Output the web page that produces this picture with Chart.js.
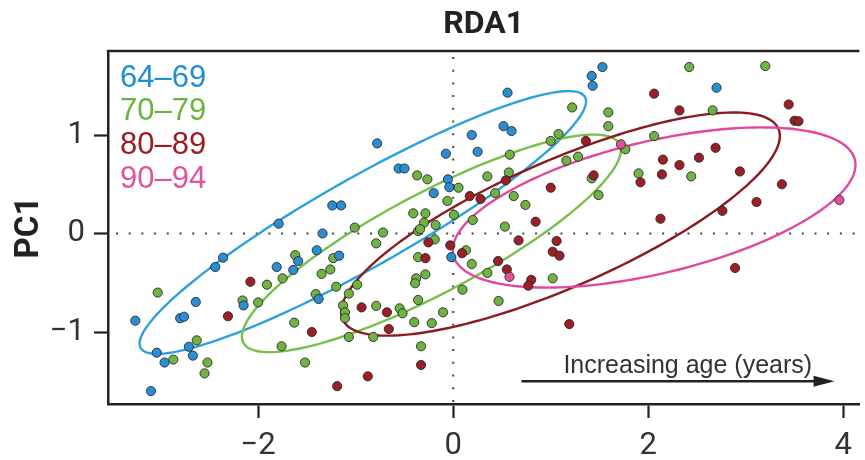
<!DOCTYPE html>
<html>
<head>
<meta charset="utf-8">
<script src="https://cdn.jsdelivr.net/npm/chart.js@4.4.1/dist/chart.umd.min.js"></script>
<style>
  html, body { margin: 0; padding: 0; background: #fff; }
  #c { display: block; }
</style>
</head>
<body>
<canvas id="c" width="865" height="460"></canvas>
<script>
// ---------------- data ----------------
const groupLabels = ['64\u201369', '70\u201379', '80\u201389', '90\u201394'];

const blueX = [-3.26,-3.10,-3.04,-2.96,-2.80,-2.76,-2.64,-2.71,-2.67,-2.44,-2.36,-2.15,-1.81,-1.79,-1.59,-1.64,-1.34,-1.40,-1.17,-1.38,-1.24,-1.15,-0.78,0.557,0.19,0.516,0.598,0.25,-0.075,-0.56,-0.50,1.42,1.43,1.53,-0.054,-0.04,-0.20,-0.02,2.70];
const blueY = [-0.885,-1.60,-1.21,-1.31,-0.86,-0.845,-0.695,-1.15,-1.24,-0.34,-0.245,-0.73,-0.34,0.10,-0.28,-0.37,0.0,-0.17,-0.225,-0.665,0.285,0.285,0.915,1.43,1.0,1.09,1.04,0.83,0.81,0.66,0.66,1.6,1.5,1.69,0.55,0.47,0.41,-0.24,1.48];

const greenX = [-3.03,-2.87,-2.63,-2.52,-2.55,-2.16,-2.0,-1.91,-1.75,-1.62,-1.63,-1.76,-1.52,-1.01,-1.23,-1.35,-1.26,-1.41,-1.20,-1.07,-0.985,-1.13,-1.11,-1.11,-1.07,1.22,1.08,1.0,0.58,1.16,1.28,1.42,1.49,0.74,0.62,0.53,0.43,0.57,0.35,0.054,-0.37,-0.265,-0.06,0.007,0.20,-0.41,-0.285,-0.30,-0.18,-0.36,-0.34,-0.72,-0.79,-0.19,0.13,0.19,-0.36,-0.285,-0.38,-0.39,-0.36,-0.105,-0.22,-0.40,-0.33,-0.55,-0.52,-0.79,-0.82,0.095,0.465,0.35,1.02,2.42,3.20,2.66,1.59,1.59,2.06,1.765,1.90,2.44];
const greenY = [-0.60,-1.28,-1.085,-1.31,-1.42,-0.68,-0.70,-0.52,-0.455,-0.22,-0.905,-1.145,-1.31,0.06,-0.25,-0.41,-0.365,-0.615,-0.54,-0.61,-0.52,-0.73,-0.80,-0.86,-1.05,1.28,1.01,0.94,0.80,0.74,0.78,0.56,0.39,0.29,0.38,0.07,0.41,0.62,0.58,0.465,0.59,0.55,0.33,0.19,0.137,0.205,0.205,0.11,0.086,0.025,0.045,0.01,-0.10,-0.06,-0.17,-0.31,-0.24,-0.415,-0.455,-0.505,-0.675,-0.80,-0.91,-0.90,-1.145,-0.76,-0.81,-0.735,-1.05,-0.57,-0.685,-0.40,-0.455,1.69,1.70,1.25,1.23,1.09,0.99,0.855,0.61,0.58];

const redX = [-2.31,-2.08,-1.45,-1.19,-0.94,1.36,1.44,1.0,0.845,0.54,0.28,0.17,-0.255,-0.03,0.09,-0.285,-0.33,-0.876,-0.66,-0.68,0.46,0.55,0.67,1.06,1.02,1.09,0.80,0.77,1.19,2.06,2.32,3.44,3.50,3.54,2.15,2.32,2.52,2.69,2.14,1.92,2.94,3.37,3.11,2.76,2.125,2.89];
const redY = [-0.84,-0.49,-1.0,-1.55,-0.75,0.94,0.59,0.465,0.12,0.54,0.35,0.38,-0.09,-0.12,-0.20,-0.25,-1.335,-1.45,-0.97,-0.80,-0.28,-0.365,-0.07,-0.076,-0.185,-0.225,-0.47,-0.53,-0.92,1.42,1.25,1.31,1.145,1.14,0.75,0.695,0.77,0.87,0.60,0.52,0.63,0.50,0.32,0.23,0.15,-0.35];

const pinkX = [0.577, 1.72, 3.96];
const pinkY = [-0.44, 0.905, 0.34];

// ellipse parameters per group: centre, semi-axes (data units), tilt (degrees)
const ellCX = [-0.927, -0.224, 1.10, 2.06];
const ellCY = [0.112, -0.10, 0.096, 0.264];
const ellA  = [2.61, 2.176, 2.435, 2.115];
const ellB  = [0.455, 0.509, 0.643, 0.672];
const ellDeg = [29.2, 27.6, 23.4, 13.2];

const xTicks = [-2, 0, 2, 4];
const yTicks = [-1, 0, 1];
const xRange = [-3.54, 4.165];
const yRange = [-1.731, 1.853];

const arrowText = 'Increasing age (years)';
const arrowFromX = 0.70, arrowToX = 3.91, arrowAtY = -1.50;
const arrowTextX = 1.13, arrowTextY = -1.415;

// ---------------- styles ----------------
const pointFill = ['#2a8fd2', '#6fb344', '#9a1f27', '#e0539b'];
const legendColor = ['#1f8fd0', '#6ab43e', '#9a1c24', '#e0549c'];
const ellColor = ['#2ca2dc', '#78c04b', '#8a1b21', '#e2479e'];

const TFONT = 'Roboto, "Liberation Sans", sans-serif';
const REG = '"Liberation Sans", Arial, sans-serif';

function pts(xs, ys) { return xs.map((x, i) => ({ x: x, y: ys[i] })); }
function minusFmt(v) { return v < 0 ? '\u2212' + Math.abs(v) : String(v); }

const decorPlugin = {
  id: 'decor',
  beforeDatasetsDraw(chart) {
    const { ctx, chartArea: ca } = chart;
    const xs = chart.scales.x, ys = chart.scales.y;
    ctx.save();
    ctx.beginPath();
    ctx.rect(ca.left, ca.top, ca.right - ca.left, ca.bottom - ca.top);
    ctx.clip();
    // dotted zero lines
    ctx.strokeStyle = '#444';
    ctx.lineWidth = 2;
    ctx.setLineDash([2, 10.7]);
    const x0 = xs.getPixelForValue(0), y0 = ys.getPixelForValue(0);
    ctx.beginPath(); ctx.moveTo(ca.left + 8, y0); ctx.lineTo(ca.right, y0); ctx.stroke();
    ctx.beginPath(); ctx.moveTo(x0, ca.top + 6); ctx.lineTo(x0, ca.bottom); ctx.stroke();
    ctx.setLineDash([]);
    // ellipses
    for (let g = 0; g < ellCX.length; g++) {
      const th = ellDeg[g] * Math.PI / 180;
      ctx.beginPath();
      for (let k = 0; k <= 180; k++) {
        const t = k / 180 * 2 * Math.PI;
        const dx = ellA[g] * Math.cos(t), dy = ellB[g] * Math.sin(t);
        const vx = ellCX[g] + dx * Math.cos(th) - dy * Math.sin(th);
        const vy = ellCY[g] + dx * Math.sin(th) + dy * Math.cos(th);
        const px = xs.getPixelForValue(vx), py = ys.getPixelForValue(vy);
        if (k === 0) ctx.moveTo(px, py); else ctx.lineTo(px, py);
      }
      ctx.closePath();
      ctx.strokeStyle = ellColor[g];
      ctx.lineWidth = 2.4;
      ctx.stroke();
    }
    ctx.restore();
  },
  afterDatasetsDraw(chart) {
    const { ctx, chartArea: ca } = chart;
    const xs = chart.scales.x, ys = chart.scales.y;
    ctx.save();
    // top frame line
    ctx.strokeStyle = '#222';
    ctx.lineWidth = 2.5;
    ctx.beginPath(); ctx.moveTo(ca.left - 1.25, ca.top); ctx.lineTo(ca.right, ca.top); ctx.stroke();
    // legend texts
    ctx.font = '31px ' + REG;
    ctx.textAlign = 'left';
    ctx.textBaseline = 'middle';
    for (let g = 0; g < groupLabels.length; g++) {
      ctx.fillStyle = legendColor[g];
      ctx.fillText(groupLabels[g], ca.left + 12, ca.top + 27 + g * 33.7);
    }
    // arrow
    const ax1 = xs.getPixelForValue(arrowFromX), ax2 = xs.getPixelForValue(arrowToX);
    const ay = ys.getPixelForValue(arrowAtY);
    ctx.strokeStyle = '#222';
    ctx.fillStyle = '#222';
    ctx.lineWidth = 2.6;
    ctx.beginPath(); ctx.moveTo(ax1, ay); ctx.lineTo(ax2 - 14, ay); ctx.stroke();
    ctx.beginPath();
    ctx.moveTo(ax2, ay); ctx.lineTo(ax2 - 21, ay - 5.5); ctx.lineTo(ax2 - 21, ay + 5.5); ctx.closePath();
    ctx.fill();
    ctx.fillStyle = '#333';
    ctx.font = '25px ' + REG;
    ctx.textBaseline = 'alphabetic';
    ctx.fillText(arrowText, xs.getPixelForValue(arrowTextX), ys.getPixelForValue(arrowTextY));
    ctx.restore();
  }
};

function ds(label, xs, ys, color, order) {
  return {
    label: label,
    data: pts(xs, ys),
    backgroundColor: color,
    borderColor: 'rgba(35,35,35,0.85)',
    borderWidth: 1,
    pointRadius: 4.6,
    pointHoverRadius: 4.6,
    order: order
  };
}

const axisCommon = {
  border: { display: true, color: '#222', width: 2.5 },
  grid: { display: true, drawOnChartArea: false, drawTicks: true, tickLength: 14, tickWidth: 2.2, tickColor: '#222' },
};

new Chart(document.getElementById('c'), {
  type: 'scatter',
  data: {
    datasets: [
      ds(groupLabels[0], blueX, blueY, pointFill[0], 2),
      ds(groupLabels[1], greenX, greenY, pointFill[1], 3),
      ds(groupLabels[2], redX, redY, pointFill[2], 1),
      ds(groupLabels[3], pinkX, pinkY, pointFill[3], 0)
    ]
  },
  options: {
    responsive: false,
    animation: false,
    devicePixelRatio: 1,
    layout: { padding: { left: 0, right: 0, top: 0, bottom: 0 } },
    plugins: {
      legend: { display: false },
      tooltip: { enabled: false },
      title: {
        display: true,
        text: 'RDA1',
        fullSize: false,
        color: '#222',
        font: { family: TFONT, size: 32, weight: 'bold', lineHeight: 1.2 },
        padding: { top: 6, bottom: 6.6 }
      }
    },
    scales: {
      x: Object.assign({}, axisCommon, {
        type: 'linear',
        min: xRange[0], max: xRange[1],
        afterBuildTicks: s => { s.ticks = xTicks.map(v => ({ value: v })); },
        afterFit: s => { s.height = 56; },
        ticks: { color: '#333', padding: 10, font: { family: TFONT, size: 31 }, callback: minusFmt, maxRotation: 0 }
      }),
      y: Object.assign({}, axisCommon, {
        type: 'linear',
        min: yRange[0], max: yRange[1],
        afterBuildTicks: s => { s.ticks = yTicks.map(v => ({ value: v })); },
        afterFit: s => { s.width = 108; },
        ticks: { color: '#333', padding: 9, font: { family: TFONT, size: 31 }, callback: minusFmt },
        title: {
          display: true, text: 'PC1', color: '#222',
          font: { family: TFONT, size: 33, weight: 'bold', lineHeight: 1.2 },
          padding: { top: 10, bottom: 0 }
        }
      })
    }
  },
  plugins: [decorPlugin]
});
</script>
</body>
</html>
